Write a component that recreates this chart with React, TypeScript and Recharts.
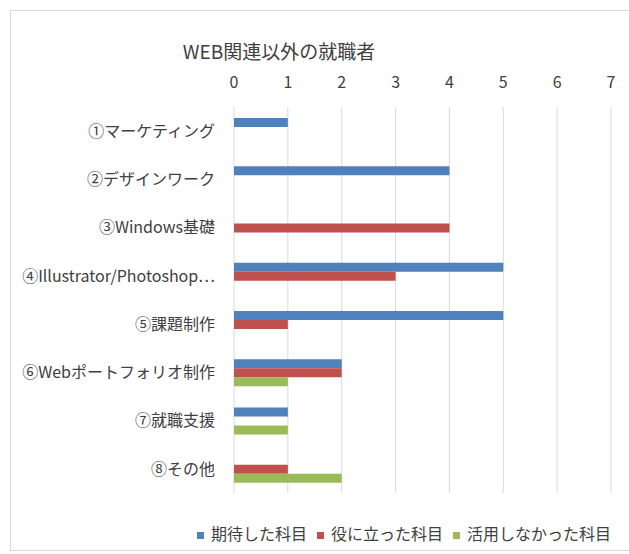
import React from "react";
import { BarChart, Bar, XAxis, YAxis, CartesianGrid, Legend } from "recharts";

const categories = [
  "①マーケティング",
  "②デザインワーク",
  "③Windows基礎",
  "④Illustrator/Photoshop…",
  "⑤課題制作",
  "⑥Webポートフォリオ制作",
  "⑦就職支援",
  "⑧その他",
];
const expected = [1, 4, 0, 5, 5, 2, 1, 0];
const useful = [0, 0, 4, 3, 1, 2, 0, 1];
const unused = [0, 0, 0, 0, 0, 1, 1, 2];
const xTicks = [0, 1, 2, 3, 4, 5, 6, 7];
const seriesOrder = ["expected", "useful", "unused"];

const data = categories.map((name, i) => ({
  name,
  expected: expected[i],
  useful: useful[i],
  unused: unused[i],
}));

const FONT = "'Noto Sans CJK JP', 'Noto Sans', sans-serif";
const TEXT = "#404040";

export default function App(): JSX.Element {
  return (
    <div
      style={{
        position: "absolute",
        left: 10,
        top: 10,
        width: 619,
        height: 541,
        boxSizing: "border-box",
        borderTop: "1px solid #d9d9d9",
        borderLeft: "1px solid #d9d9d9",
        borderBottom: "1px solid #d9d9d9",
        background: "#fff",
        fontFamily: FONT,
      }}
    >
      <div
        style={{
          position: "absolute",
          left: 0,
          top: 28,
          width: 536,
          textAlign: "center",
          fontSize: 19,
          color: TEXT,
          lineHeight: "24px",
        }}
      >
        WEB関連以外の就職者
      </div>
      <BarChart
        width={618}
        height={539}
        data={data}
        layout="vertical"
        barSize={9}
        barGap={0}
        margin={{ top: 66, right: 18, bottom: 57, left: 0 }}
      >
        <CartesianGrid horizontal={false} vertical stroke="#d9d9d9" />
        <XAxis
          type="number"
          orientation="top"
          domain={[0, 7]}
          ticks={xTicks}
          interval={0}
          height={30}
          axisLine={false}
          tickLine={false}
          tickMargin={13}
          tick={{ fill: TEXT, fontSize: 16, fontFamily: FONT }}
        />
        <YAxis
          type="category"
          dataKey="name"
          width={223}
          axisLine={false}
          tickLine={false}
          tickSize={0}
          tickMargin={19}
          interval={0}
          tick={{ fill: TEXT, fontSize: 16, fontFamily: FONT }}
        />
        <Legend
          layout="horizontal"
          verticalAlign="middle"
          align="center"
          iconType="square"
          iconSize={7}
          itemSorter={(item: any) => seriesOrder.indexOf(item.dataKey)}
          wrapperStyle={{
            left: 178,
            width: 440,
            top: 510,
            fontSize: 16,
            fontFamily: FONT,
          }}
          formatter={(value: string) => (
            <span style={{ color: TEXT, marginLeft: 3 }}>{value}</span>
          )}
        />
        <Bar dataKey="expected" name="期待した科目" fill="#4F81BD" isAnimationActive={false} />
        <Bar dataKey="useful" name="役に立った科目" fill="#C0504D" isAnimationActive={false} />
        <Bar dataKey="unused" name="活用しなかった科目" fill="#9BBB59" isAnimationActive={false} />
      </BarChart>
    </div>
  );
}
